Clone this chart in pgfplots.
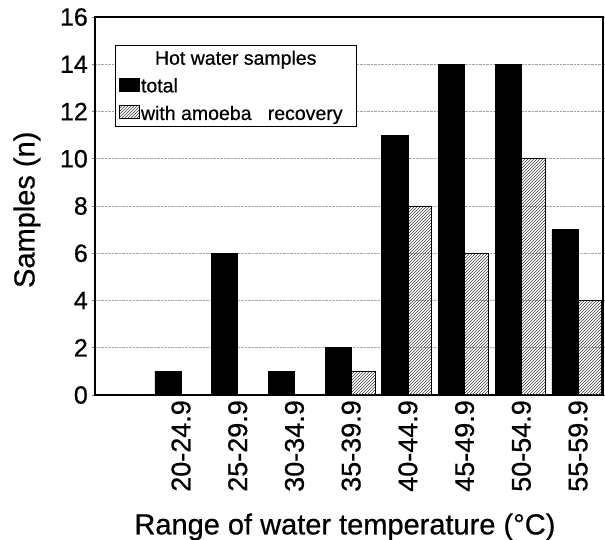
\documentclass[border=0pt]{standalone}
\usepackage{fontspec}
\setmainfont{Liberation Sans}[FakeBold=0.6]
\usepackage{pgfplots}
\pgfplotsset{compat=1.18}
\usetikzlibrary{patterns}

\begin{document}
\begin{tikzpicture}
\begin{axis}[
  scale only axis, width=508pt, height=378pt,
  xmin=-0.517, xmax=8.44, ymin=0, ymax=16,
  ytick={0,2,...,16},
  xtick={1,...,8},
  xticklabels={20-24.9,25-29.9,30-34.9,35-39.9,40-44.9,45-49.9,50-54.9,55-59.9},
  /pgf/number format/assume math mode=true,
  axis line style={line width=1.3pt},
  ymajorgrids, major grid style={densely dotted, gray!70, line width=0.6pt},
  ytick style={line width=0.8pt}, tick align=outside, major tick length=3pt,
  xtick style={draw=none},
  yticklabel style={font=\fontsize{25}{25}\selectfont, inner xsep=4pt},
  xticklabel style={font=\fontsize{27}{27}\selectfont, rotate=90, anchor=east, inner xsep=2pt},
  ylabel={Samples (n)},
  xlabel={Range of water temperature (°C)},
  ylabel style={font=\fontsize{29}{29}\selectfont, at={(axis description cs:-0.1339,0.49)}, anchor=center, rotate=0},
  xlabel style={font=\fontsize{29}{29}\selectfont, at={(axis description cs:0.492,-0.349)}, anchor=center},
  legend cell align=left,
  legend style={at={(axis description cs:0.039,0.926)}, anchor=north west,
    draw=black, line width=1.2pt, font=\fontsize{19.5}{21}\selectfont,
    row sep=10pt, inner xsep=4pt, inner ysep=4pt,
    nodes={inner xsep=1pt, inner ysep=1pt}},
]
\addlegendimage{empty legend}
\addlegendentry{\hspace*{14pt}Hot water samples}
\addplot[ybar, bar width=0.46, bar shift=-0.23, fill=black, draw=black, line width=0.8pt,
  legend image code/.code={\draw[fill=black,draw=black,line width=0.6pt] (0pt,-5pt) rectangle (20pt,8pt);}]
  coordinates {(0,0) (1,1) (2,6) (3,1) (4,2) (5,11) (6,14) (7,14) (8,7)};
\addlegendentry{total}
\addplot[ybar, bar width=0.42, bar shift=0.21, draw=black, line width=0.8pt,
  pattern=north east lines, pattern color=black!75,
  legend image code/.code={\draw[pattern=north east lines,pattern color=black!75,draw=black,line width=0.6pt] (0pt,-5pt) rectangle (20pt,8pt);}]
  coordinates {(0,0) (1,0) (2,0) (3,0) (4,1) (5,8) (6,6) (7,10) (8,4)};
\addlegendentry{with amoeba\ \ \ recovery\hspace*{9pt}}
\coordinate (O) at (rel axis cs:0,0);
\end{axis}
\pgfresetboundingbox
\path (O) ++(-95pt,-145pt) rectangle ++(605pt,540pt);
\end{tikzpicture}
\end{document}
